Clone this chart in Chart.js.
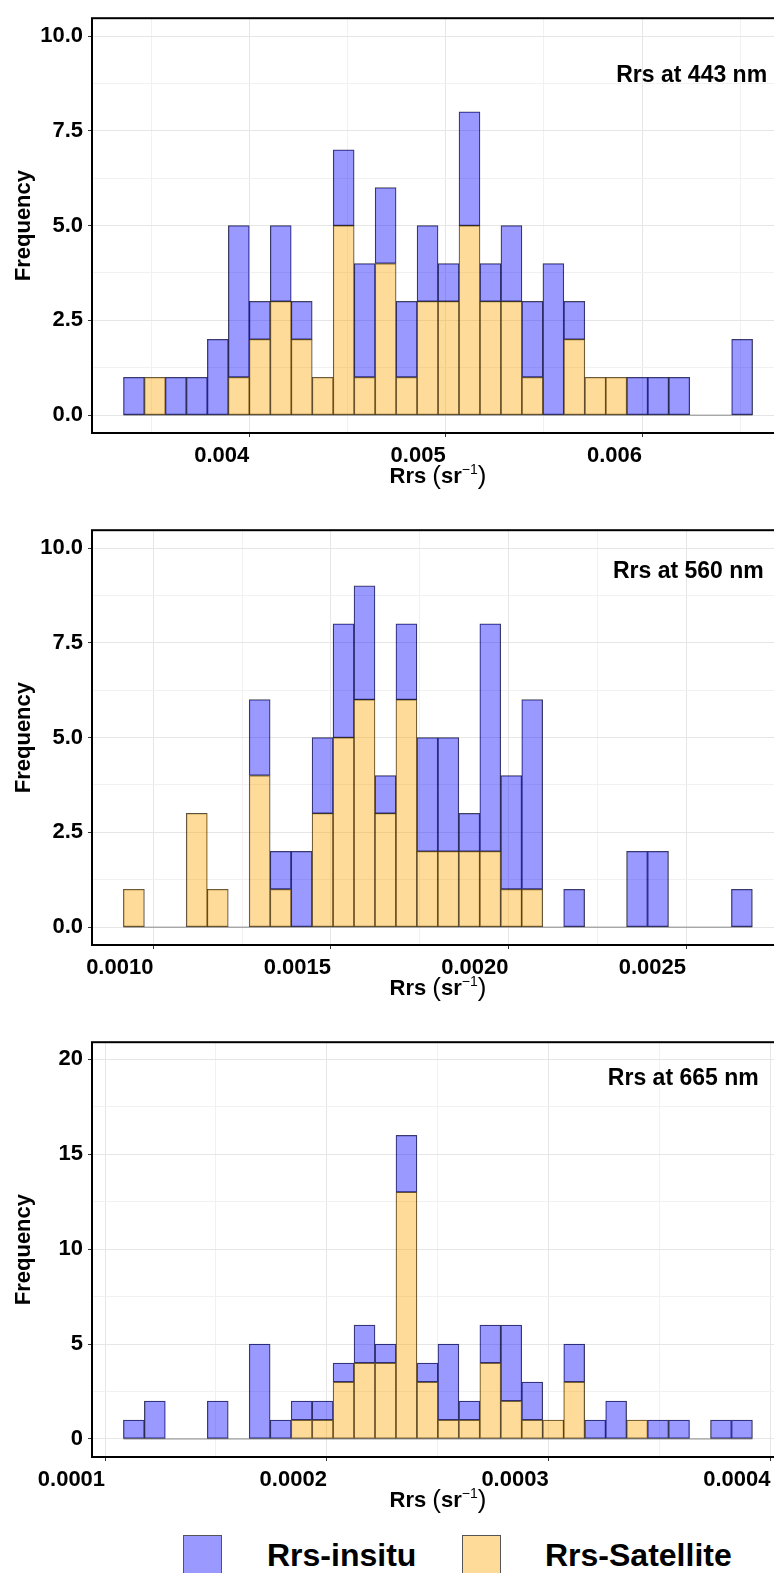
<!DOCTYPE html>
<html lang="en">
<head>
<meta charset="UTF-8" />
<title>Rrs histograms</title>
<style>
  body {
    margin: 0;
    background: #fff;
    width: 774px;
    height: 1573px;
    overflow: hidden;
    position: relative;
    font-family: "Liberation Sans", Arial, sans-serif;
  }
  .panel { position: absolute; left: 0; width: 786px; height: 511px; }
  .key { position: absolute; top: 1535px; width: 37px; height: 37px; border: 1px solid #555; }
  .lab { position: absolute; top: 1535px; line-height: 40px; font-size: 32px; font-weight: bold; color: #000; }
</style>
</head>
<body>
  <canvas id="p443" class="panel" style="top:0" width="786" height="511"></canvas>
  <canvas id="p560" class="panel" style="top:512px" width="786" height="511"></canvas>
  <canvas id="p665" class="panel" style="top:1024px" width="786" height="511"></canvas>

  <div class="key" style="left:183px;background:rgba(0,0,255,0.4)"></div>
  <div class="lab" style="left:267px">Rrs-insitu</div>
  <div class="key" style="left:462px;background:rgba(255,165,0,0.4)"></div>
  <div class="lab" style="left:545px">Rrs-Satellite</div>

  <script src="https://cdn.jsdelivr.net/npm/chart.js"></script>
  <script>
    // bin centres and counts (30 bins per band)
    const bins443 = [0.0034126, 0.0035194, 0.0036262, 0.0037330, 0.0038398, 0.0039466,
      0.0040534, 0.0041602, 0.0042670, 0.0043738, 0.0044806, 0.0045874, 0.0046942,
      0.0048010, 0.0049078, 0.0050146, 0.0051214, 0.0052282, 0.0053350, 0.0054418,
      0.0055486, 0.0056554, 0.0057622, 0.0058690, 0.0059758, 0.0060826, 0.0061894,
      0.0062962, 0.0064030, 0.0065098];
    const insitu443 = [1, 0, 1, 1, 2, 4, 1, 2, 1, 0, 2, 3, 2, 2, 2, 1, 3, 1, 2, 2, 4, 1, 0, 0, 1, 1, 1, 0, 0, 2];
    const satellite443 = [0, 1, 0, 0, 0, 1, 2, 3, 2, 1, 5, 1, 4, 1, 3, 3, 5, 3, 3, 1, 0, 2, 1, 1, 0, 0, 0, 0, 0, 0];

    const bins560 = [0.00094493, 0.00100398, 0.00106303, 0.00112208, 0.00118113, 0.00124018,
      0.00129923, 0.00135828, 0.00141733, 0.00147638, 0.00153543, 0.00159448, 0.00165353,
      0.00171258, 0.00177163, 0.00183068, 0.00188973, 0.00194878, 0.00200783, 0.00206688,
      0.00212593, 0.00218498, 0.00224403, 0.00230308, 0.00236213, 0.00242118, 0.00248023,
      0.00253928, 0.00259833, 0.00265738];
    const insitu560 = [0, 0, 0, 0, 0, 0, 2, 1, 2, 2, 3, 3, 1, 2, 3, 3, 1, 6, 3, 5, 0, 1, 0, 0, 2, 2, 0, 0, 0, 1];
    const satellite560 = [1, 0, 0, 3, 1, 0, 4, 1, 0, 3, 5, 6, 3, 6, 2, 2, 2, 2, 1, 1, 0, 0, 0, 0, 0, 0, 0, 0, 0, 0];

    const bins665 = [0.00011298, 0.00012243, 0.00013189, 0.00014134, 0.00015080, 0.00016025,
      0.00016970, 0.00017916, 0.00018861, 0.00019807, 0.00020752, 0.00021697, 0.00022643,
      0.00023588, 0.00024534, 0.00025479, 0.00026424, 0.00027370, 0.00028315, 0.00029261,
      0.00030206, 0.00031151, 0.00032097, 0.00033042, 0.00033988, 0.00034933, 0.00035878,
      0.00036824, 0.00037769, 0.00038715];
    const insitu665 = [1, 2, 0, 0, 2, 0, 5, 1, 1, 1, 1, 2, 1, 3, 1, 4, 1, 2, 4, 2, 0, 2, 1, 2, 0, 1, 1, 0, 1, 1];
    const satellite665 = [0, 0, 0, 0, 0, 0, 0, 0, 1, 1, 3, 4, 4, 13, 3, 1, 1, 4, 2, 1, 1, 3, 0, 0, 1, 0, 0, 0, 0, 0];

    // tick values and labels
    const xTicks443 = [0.004, 0.005, 0.006];
    const xLabels443 = ['0.004', '0.005', '0.006'];
    const xMinor443 = [0.0035, 0.0045, 0.0055, 0.0065];
    const xTicks560 = [0.001, 0.0015, 0.002, 0.0025];
    const xLabels560 = ['0.0010', '0.0015', '0.0020', '0.0025'];
    const xMinor560 = [0.00125, 0.00175, 0.00225, 0.00275];
    const xTicks665 = [0.0001, 0.0002, 0.0003, 0.0004];
    const xLabels665 = ['0.0001', '0.0002', '0.0003', '0.0004'];
    const xMinor665 = [0.00015, 0.00025, 0.00035];
    const yTicks10 = [0, 2.5, 5, 7.5, 10];
    const yLabels10 = ['0.0', '2.5', '5.0', '7.5', '10.0'];
    const yMinor10 = [1.25, 3.75, 6.25, 8.75];
    const yTicks20 = [0, 5, 10, 15, 20];
    const yLabels20 = ['0', '5', '10', '15', '20'];
    const yMinor20 = [2.5, 7.5, 12.5, 17.5];

    const FONT = '"Liberation Sans", Arial, sans-serif';
    Chart.defaults.font.family = FONT;
    Chart.defaults.color = '#000';

    const same = (a, b) => Math.abs(a - b) <= Math.abs(a) * 1e-6 + 1e-15;
    const has = (list, v) => list.some(t => same(t, v));

    // panel frame, axis titles and the band note
    const framePlugin = {
      id: 'frame',
      afterDatasetsDraw(chart, args, p) {
        const { ctx, chartArea: a } = chart;
        ctx.save();
        ctx.strokeStyle = '#000';
        ctx.lineWidth = 2;
        ctx.strokeRect(a.left, a.top, a.right - a.left, a.bottom - a.top);

        ctx.fillStyle = '#000';
        ctx.font = 'bold 23px ' + FONT;
        ctx.textAlign = 'right';
        ctx.textBaseline = 'middle';
        ctx.fillText(p.note, chart.scales.x.getPixelForValue(p.noteX), chart.scales.y.getPixelForValue(p.noteY));

        // y title
        ctx.save();
        ctx.translate(24, (a.top + a.bottom) / 2);
        ctx.rotate(-Math.PI / 2);
        ctx.textAlign = 'center';
        ctx.font = 'bold 22px ' + FONT;
        ctx.fillText('Frequency', 0, 0);
        ctx.restore();

        // x title: Rrs (sr^-1)
        const parts = [
          ['Rrs ', 'bold 22px ' + FONT, 0],
          ['(', '26px ' + FONT, 1],
          ['sr', 'bold 22px ' + FONT, 0],
          ['\u22121', '14px ' + FONT, -9],
          [')', '26px ' + FONT, 1]
        ];
        let total = 0;
        parts.forEach(q => { ctx.font = q[1]; total += ctx.measureText(q[0]).width; });
        let x = (a.left + a.right) / 2 - total / 2;
        const base = a.bottom + 50;
        ctx.textAlign = 'left';
        ctx.textBaseline = 'alphabetic';
        parts.forEach(q => {
          ctx.font = q[1];
          ctx.fillText(q[0], x, base + q[2]);
          x += ctx.measureText(q[0]).width;
        });
        ctx.restore();
      }
    };

    function makePanel(id, p) {
      const half = (p.bins[1] - p.bins[0]) / 2;
      const xAll = p.xTicks.concat(p.xMinor).sort((a, b) => a - b);
      const yAll = p.yTicks.concat(p.yMinor).sort((a, b) => a - b);
      const edge = 'rgba(0,0,0,0.72)';
      return new Chart(document.getElementById(id), {
        type: 'bar',
        data: {
          datasets: [
            { label: 'Rrs-Satellite', data: p.bins.map((x, i) => ({ x, y: p.satellite[i] })),
              backgroundColor: 'rgba(255,165,0,0.4)', borderColor: edge, borderWidth: 0.6,
              borderSkipped: false, categoryPercentage: 1, barPercentage: 1, order: 1 },
            { label: 'Rrs-insitu', data: p.bins.map((x, i) => ({ x, y: p.insitu[i] })),
              backgroundColor: 'rgba(0,0,255,0.4)', borderColor: edge, borderWidth: 0.6,
              borderSkipped: false, categoryPercentage: 1, barPercentage: 1, order: 1 },
            { type: 'line', label: 'zero',
              data: [{ x: p.bins[0] - half, y: 0 }, { x: p.bins[p.bins.length - 1] + half, y: 0 }],
              borderColor: '#8a8a8a', borderWidth: 1, pointRadius: 0, order: 2 }
          ]
        },
        options: {
          responsive: false,
          animation: false,
          layout: { padding: { top: 11, right: 2, bottom: 0, left: 0 } },
          plugins: { legend: { display: false }, tooltip: { enabled: false }, frame: p },
          scales: {
            x: {
              type: 'linear', stacked: true, offset: false, min: p.xMin, max: p.xMax,
              afterBuildTicks: s => { s.ticks = xAll.map(v => ({ value: v })); },
              afterFit: s => { s.height = 78; },
              ticks: {
                autoSkip: false, maxRotation: 0, minRotation: 0, align: 'end', padding: 6,
                font: { size: 22, weight: 'bold' }, color: '#000',
                callback: v => { const i = p.xTicks.findIndex(t => same(t, v)); return i < 0 ? '' : p.xLabels[i]; }
              },
              grid: {
                offset: false, tickLength: 4, lineWidth: 1,
                color: c => has(p.xTicks, c.tick.value) ? '#e6e6e6' : '#f1f1f1',
                tickColor: c => has(p.xTicks, c.tick.value) ? '#333' : 'rgba(0,0,0,0)'
              },
              border: { display: false }
            },
            y: {
              stacked: true, min: p.yMin, max: p.yMax,
              afterBuildTicks: s => { s.ticks = yAll.map(v => ({ value: v })); },
              afterFit: s => { s.width = 92; },
              ticks: {
                padding: 5, font: { size: 22, weight: 'bold' }, color: '#000',
                callback: v => { const i = p.yTicks.findIndex(t => same(t, v)); return i < 0 ? '' : p.yLabels[i]; }
              },
              grid: {
                tickLength: 4, lineWidth: 1,
                color: c => has(p.yTicks, c.tick.value) ? '#e6e6e6' : '#f1f1f1',
                tickColor: c => has(p.yTicks, c.tick.value) ? '#333' : 'rgba(0,0,0,0)'
              },
              border: { display: false }
            }
          }
        },
        plugins: [framePlugin]
      });
    }

    makePanel('p443', {
      bins: bins443, insitu: insitu443, satellite: satellite443,
      xTicks: xTicks443, xLabels: xLabels443, xMinor: xMinor443,
      yTicks: yTicks10, yLabels: yLabels10, yMinor: yMinor10,
      xMin: 0.003199, xMax: 0.006723, yMin: -0.47, yMax: 10.47,
      note: 'Rrs at 443 nm', noteX: 0.006637, noteY: 8.96
    });
    makePanel('p560', {
      bins: bins560, insitu: insitu560, satellite: satellite560,
      xTicks: xTicks560, xLabels: xLabels560, xMinor: xMinor560,
      yTicks: yTicks10, yLabels: yLabels10, yMinor: yMinor10,
      xMin: 0.000827, xMax: 0.002776, yMin: -0.47, yMax: 10.47,
      note: 'Rrs at 560 nm', noteX: 0.002719, noteY: 9.38
    });
    makePanel('p665', {
      bins: bins665, insitu: insitu665, satellite: satellite665,
      xTicks: xTicks665, xLabels: xLabels665, xMinor: xMinor665,
      yTicks: yTicks20, yLabels: yLabels20, yMinor: yMinor20,
      xMin: 0.0000941, xMax: 0.0004061, yMin: -0.95, yMax: 20.9,
      note: 'Rrs at 665 nm', noteX: 0.0003947, noteY: 18.98
    });
  </script>
</body>
</html>
